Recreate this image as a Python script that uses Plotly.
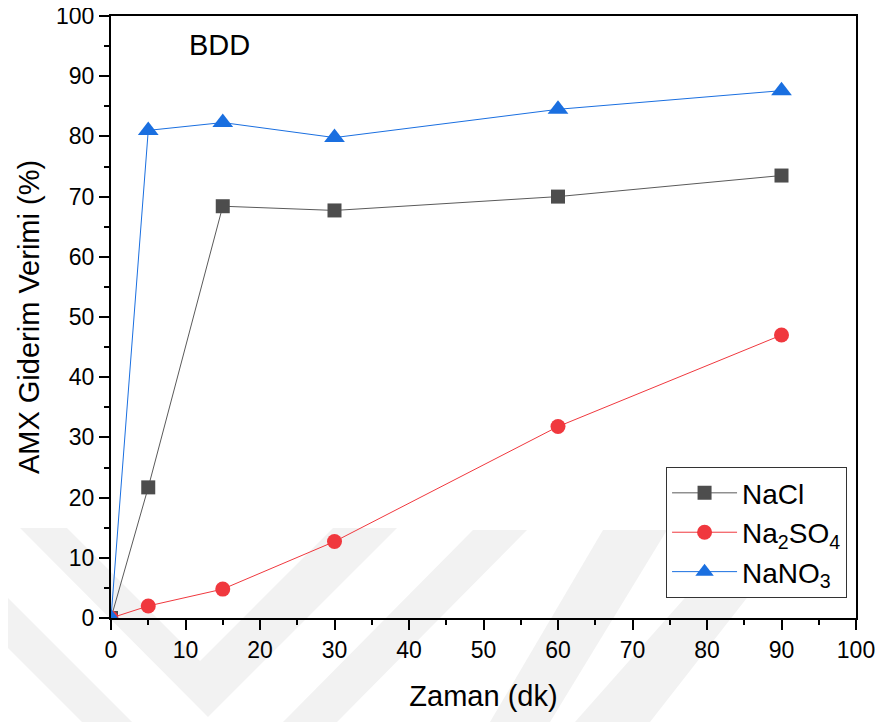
import plotly.graph_objects as go

time_min = [0, 5, 15, 30, 60, 90]
nacl = [0, 21.7, 68.4, 67.7, 70.0, 73.5]
na2so4 = [0, 2.0, 4.8, 12.7, 31.8, 47.0]
nano3 = [0, 81.0, 82.3, 79.8, 84.5, 87.6]

series = [
    ("NaCl", nacl, "#4d4d4d", "#5a5a5a", "square", 14),
    ("Na<sub>2</sub>SO<sub>4</sub>", na2so4, "#f0383e", "#f0383e", "circle", 15),
    ("NaNO<sub>3</sub>", nano3, "#1a6fe0", "#1a6fe0", "triangle-up", 18),
]

W, H = 885, 722
OFF = 8  # page body margin offset of the figure div
# plot area in page pixels: x 111..856, y 16..618
L = 111 - OFF
T = 16 - OFF
R = W - (856 - OFF)
B = H - (618 - OFF)

fig = go.Figure()
for name, vals, mcol, lcol, sym, size in series:
    fig.add_trace(go.Scatter(
        x=time_min, y=vals, name=name, mode="lines+markers",
        line=dict(color=lcol, width=1),
        marker=dict(symbol=sym, size=size, color=mcol, line=dict(width=0)),
    ))

# faint background watermark (decorative), defined in page pixels
def px2paper(pts):
    pw = 856 - 111
    ph = 618 - 16
    return [((x - 111) / pw, (618 - y) / ph) for x, y in pts]

watermark = [
    [(20, 528), (67, 528), (200, 661), (333, 528), (397, 528), (208, 717)],
    [(473, 530), (527, 530), (337, 722), (283, 722)],
    [(603, 530), (667, 530), (550, 722), (490, 722)],
    [(745, 530), (800, 530), (650, 722), (575, 722)],
    [(0, 590), (0, 640), (82, 722), (132, 722)],
]
shapes = []
for poly in watermark:
    pp = px2paper(poly)
    path = "M " + " L ".join(f"{x:.4f},{y:.4f}" for x, y in pp) + " Z"
    shapes.append(dict(type="path", xref="paper", yref="paper", path=path,
                       fillcolor="#f2f2f2", line=dict(width=0), layer="below"))

axis_common = dict(
    showline=True, linecolor="black", linewidth=2, mirror=True,
    ticks="outside", ticklen=10, tickwidth=2, tickcolor="black",
    showgrid=False, zeroline=False, automargin=False,
    ticklabeloverflow="allow",
    tickfont=dict(family="Liberation Sans, Arial", size=23, color="black"),
    minor=dict(ticks="outside", ticklen=5, tickwidth=2, tickcolor="black", dtick=5),
)

fig.update_layout(
    width=W, height=H,
    margin=dict(l=L, r=R, t=T, b=B),
    paper_bgcolor="white", plot_bgcolor="rgba(0,0,0,0)",
    font=dict(family="Liberation Sans, Arial", size=23, color="black"),
    xaxis=dict(range=[0, 100], dtick=10, tick0=0,
               title=dict(text="Zaman (dk)", font=dict(size=29), standoff=24),
               **axis_common),
    yaxis=dict(range=[0, 100], dtick=10, tick0=0,
               title=dict(text="AMX Giderim Verimi (%)", font=dict(size=29), standoff=8),
               **axis_common),
    legend=dict(x=0.988, y=0.033, xanchor="right", yanchor="bottom",
                bordercolor="#333333", borderwidth=1, bgcolor="white",
                font=dict(size=28), itemwidth=65, tracegroupgap=0),
    showlegend=True,
    shapes=shapes,
    annotations=[dict(text="BDD", x=14.5, y=95.2, xref="x", yref="y",
                      showarrow=False, font=dict(size=29, color="black"))],
)

fig.write_html("out.html")
